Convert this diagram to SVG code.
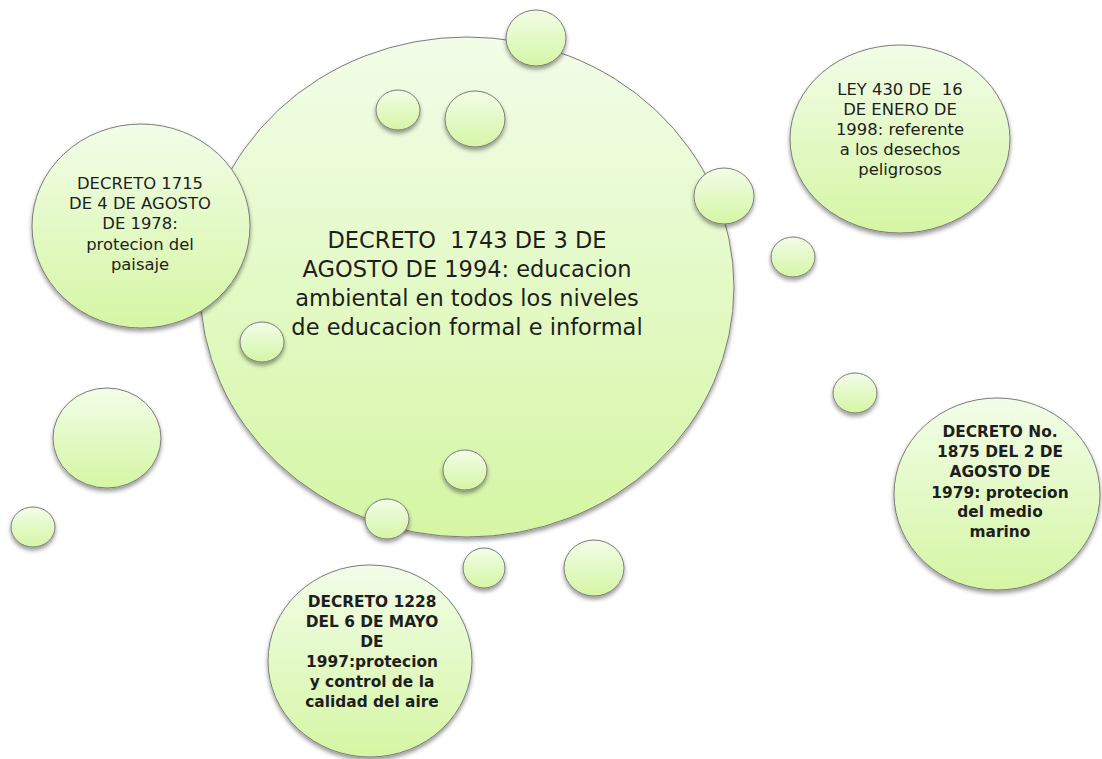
<svg xmlns="http://www.w3.org/2000/svg" width="1102" height="759" viewBox="0 0 1102 759">
<defs>
<linearGradient id="g" x1="0" y1="0" x2="0" y2="1">
<stop offset="0" stop-color="#f2fde8"/>
<stop offset="1" stop-color="#d5f6a4"/>
</linearGradient>
<filter id="sh" x="-20%" y="-20%" width="140%" height="150%">
<feDropShadow dx="0" dy="3" stdDeviation="2" flood-color="#000" flood-opacity="0.4"/>
</filter>
</defs>
<style>
.b{fill:url(#g);stroke:#7b7b7b;stroke-width:1;filter:url(#sh)}
.t{font-family:"DejaVu Sans","Liberation Sans",sans-serif;fill:#1e1e1e;text-anchor:middle;white-space:pre}
.c{font-size:22.5px}
.s{font-size:16.4px}
.k{font-size:15.4px;font-weight:bold}
</style>
<rect width="1102" height="759" fill="#fff"/>
<g id="connectors"/>
<g id="main">
<ellipse class="b" cx="467" cy="287" rx="267" ry="250"/>
<text class="t c" x="467" y="248">DECRETO  1743 DE 3 DE</text>
<text class="t c" x="467" y="277">AGOSTO DE 1994: educacion</text>
<text class="t c" x="467" y="306">ambiental en todos los niveles</text>
<text class="t c" x="467" y="335">de educacion formal e informal</text>
</g>
<g id="n1715">
<ellipse class="b" cx="141" cy="226" rx="109" ry="102"/>
<text class="t s" x="140" y="189">DECRETO 1715</text>
<text class="t s" x="140" y="209">DE 4 DE AGOSTO</text>
<text class="t s" x="140" y="229">DE 1978:</text>
<text class="t s" x="140" y="250">protecion del</text>
<text class="t s" x="140" y="270">paisaje</text>
</g>
<g id="n430">
<ellipse class="b" cx="900" cy="139" rx="110" ry="94"/>
<text class="t s" x="900" y="95">LEY 430 DE  16</text>
<text class="t s" x="900" y="115">DE ENERO DE</text>
<text class="t s" x="900" y="135">1998: referente</text>
<text class="t s" x="900" y="155">a los desechos</text>
<text class="t s" x="900" y="175">peligrosos</text>
</g>
<g id="n1875">
<ellipse class="b" cx="997" cy="494" rx="103" ry="96"/>
<text class="t k" x="1000" y="437">DECRETO No.</text>
<text class="t k" x="1000" y="457">1875 DEL 2 DE</text>
<text class="t k" x="1000" y="477">AGOSTO DE</text>
<text class="t k" x="1000" y="498">1979: protecion</text>
<text class="t k" x="1000" y="517">del medio</text>
<text class="t k" x="1000" y="537">marino</text>
</g>
<g id="n1228">
<ellipse class="b" cx="370" cy="661" rx="102" ry="96"/>
<text class="t k" x="372" y="607">DECRETO 1228</text>
<text class="t k" x="372" y="627">DEL 6 DE MAYO</text>
<text class="t k" x="372" y="647">DE</text>
<text class="t k" x="372" y="667">1997:protecion</text>
<text class="t k" x="372" y="687">y control de la</text>
<text class="t k" x="372" y="707">calidad del aire</text>
</g>
<g id="bubbles">
<ellipse class="b" cx="536" cy="38" rx="30" ry="28"/>
<ellipse class="b" cx="398" cy="110" rx="22" ry="20"/>
<ellipse class="b" cx="475" cy="119" rx="30" ry="28"/>
<ellipse class="b" cx="724" cy="196" rx="30" ry="28"/>
<ellipse class="b" cx="793" cy="257" rx="22" ry="20"/>
<ellipse class="b" cx="855" cy="393" rx="22" ry="20"/>
<ellipse class="b" cx="262" cy="342" rx="22" ry="20"/>
<ellipse class="b" cx="465" cy="470" rx="22" ry="20"/>
<ellipse class="b" cx="387" cy="519" rx="22" ry="20"/>
<ellipse class="b" cx="484" cy="568" rx="21" ry="20"/>
<ellipse class="b" cx="594" cy="568" rx="30" ry="28"/>
<ellipse class="b" cx="107" cy="438" rx="54" ry="50"/>
<ellipse class="b" cx="33" cy="527" rx="22" ry="20"/>
</g>
</svg>
